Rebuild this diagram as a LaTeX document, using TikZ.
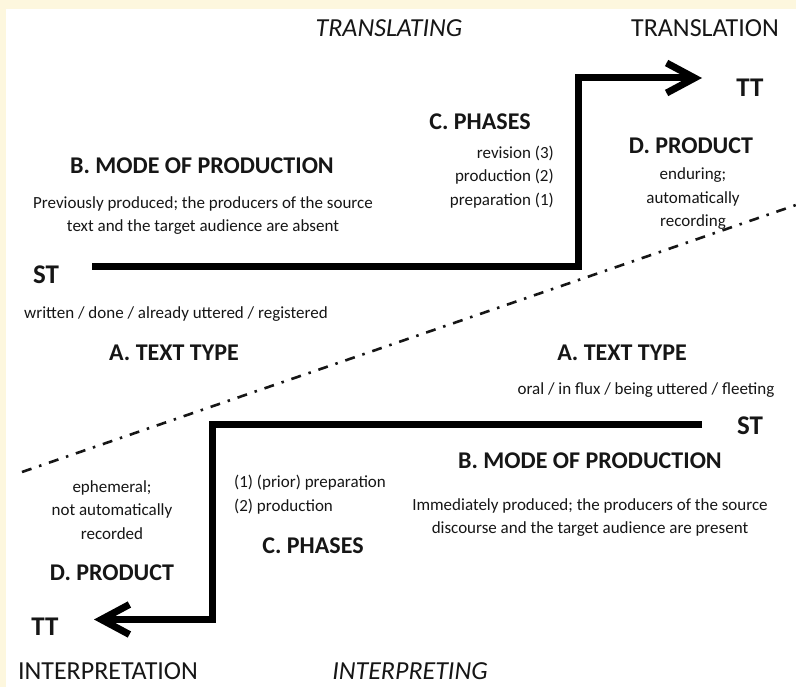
\documentclass[tikz,border=0pt]{standalone}
\usepackage{fontspec}
\setmainfont{Carlito}
\usetikzlibrary{arrows.meta}
\definecolor{cream}{RGB}{253,247,222}
\definecolor{ink}{RGB}{22,22,22}
\tikzset{
  head/.style={font=\bfseries\fontsize{24}{28}\selectfont, text=ink, inner sep=0pt},
  small/.style={font=\fontsize{17}{23.5}\selectfont, text=ink, inner sep=0pt, align=center},
  term/.style={font=\bfseries\fontsize{27}{32}\selectfont, text=ink, inner sep=0pt},
  big/.style={font=\fontsize{26}{30}\selectfont, text=ink, inner sep=0pt},
  bigit/.style={font=\itshape\fontsize{26}{30}\selectfont, text=ink, inner sep=0pt},
  flow/.style={line width=7pt, line join=miter, draw=black},
  barb/.style={-{Straight Barb[length=28pt,width=30pt]}},
  divide/.style={line width=2.6pt, draw=ink, dash pattern=on 10pt off 8pt on 2.5pt off 8pt}
}
\begin{document}
\begin{tikzpicture}[x=1pt,y=-1pt]
\useasboundingbox (0,0) rectangle (796,687);
\fill[cream] (0,0) rectangle (796,687);
\fill[white] (6,9) rectangle (796,687);

% dividing line
\coordinate (d1) at (22,472);
\coordinate (d2) at (796,205);
\draw[divide] (d1) -- (d2);

% top and bottom labels
\node[bigit] (translating) at (389,28) {TRANSLATING};
\node[big] (translation) at (705,28) {TRANSLATION};
\node[big] (interpretation) at (108,671) {INTERPRETATION};
\node[bigit] (interpreting) at (410,671) {INTERPRETING};

% terms
\node[term] (tt1) at (750,88) {TT};
\node[term] (st1) at (46,275) {ST};
\node[term] (st2) at (750,426) {ST};
\node[term] (tt2) at (45,627) {TT};

% translation side
\node[head] (phases1) at (480,122) {C. PHASES};
\node[small, align=right, anchor=east] (phtxt1) at (554,177) {revision (3)\\production (2)\\preparation (1)};
\node[head] (prod1) at (691,146) {D. PRODUCT};
\node[small] (prodtxt1) at (693,199) {enduring;\\automatically\\recording};
\node[head] (mode1) at (202,166) {B. MODE OF PRODUCTION};
\node[small] (modetxt1) at (203,215.5) {Previously produced; the producers of the source\\text and the target audience are absent};
\node[small] (typetxt1) at (176,314) {written / done / already uttered / registered};
\node[head] (type1) at (174,353) {A. TEXT TYPE};

% interpreting side
\node[head] (type2) at (622,353) {A. TEXT TYPE};
\node[small] (typetxt2) at (646,390) {oral / in flux / being uttered / fleeting};
\node[head] (mode2) at (590,461) {B. MODE OF PRODUCTION};
\node[small] (modetxt2) at (590,517.5) {Immediately produced; the producers of the source\\discourse and the target audience are present};
\node[small, align=left, anchor=west] (phtxt2) at (234,494.5) {(1) (prior) preparation\\(2) production};
\node[head] (phases2) at (313,546) {C. PHASES};
\node[small] (prodtxt2) at (112,510) {ephemeral;\\not automatically\\recorded};
\node[head] (prod2) at (112,573) {D. PRODUCT};

% flows
\coordinate (a0) at (92,267);
\coordinate (a1) at (578,267);
\coordinate (a2) at (578,78);
\coordinate (a3) at (702,78);
\draw[flow, barb] (a0) -- (a1) -- (a2) -- (a3);

\coordinate (b0) at (702,424);
\coordinate (b1) at (212,424);
\coordinate (b2) at (212,619.5);
\coordinate (b3) at (94,619.5);
\draw[flow, barb] (b0) -- (b1) -- (b2) -- (b3);
\end{tikzpicture}
\end{document}
